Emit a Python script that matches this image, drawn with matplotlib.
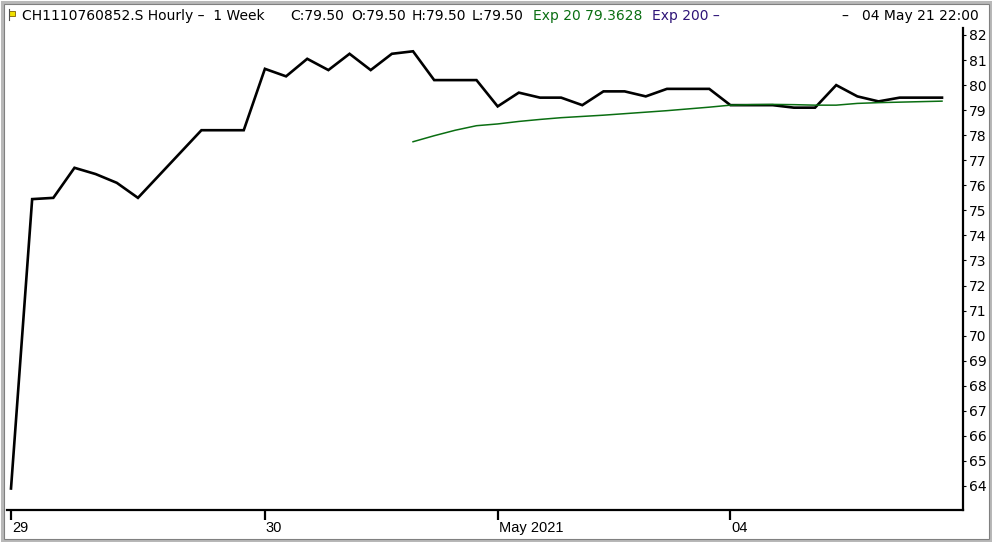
import matplotlib
matplotlib.use("Agg")
import matplotlib.pyplot as plt
import matplotlib.transforms as mtrans
from matplotlib.patches import Rectangle
from matplotlib.lines import Line2D

# ---- data ----
close = [63.9, 75.45, 75.5, 76.7, 76.45, 76.1, 75.5, 76.4, 77.3, 78.2,
         78.2, 78.2, 80.65, 80.35, 81.05, 80.6, 81.25, 80.6, 81.25, 81.35,
         80.2, 80.2, 80.2, 79.15, 79.7, 79.5, 79.5, 79.2, 79.75, 79.75,
         79.55, 79.85, 79.85, 79.85, 79.2, 79.2, 79.2, 79.1, 79.1, 80.0,
         79.55, 79.35, 79.5, 79.5, 79.5]
ema_start = 19
ema20 = [77.74, 77.98, 78.2, 78.38, 78.45, 78.55, 78.63, 78.7, 78.75, 78.8,
         78.86, 78.92, 78.98, 79.05, 79.12, 79.2, 79.22, 79.23, 79.22, 79.2,
         79.2, 79.27, 79.3, 79.32, 79.34, 79.36]
xtick_pos = [0, 12, 23, 34]
xtick_labels = ["29", "30", "May 2021", "04"]
yticks = list(range(64, 83))

W, H = 992, 542
fig = plt.figure(figsize=(W / 100, H / 100), dpi=100)
fig.patch.set_facecolor("white")

def fx(px):
    return px / W

def fy(py):
    return 1 - py / H

# axes: left 7, right 963, top 28, bottom 510 (pixels)
ax = fig.add_axes([fx(7), fy(510), fx(963) - fx(7), (510 - 28) / H])
ax.set_facecolor("white")

xs = list(range(len(close)))
ax.plot(xs, close, color="black", lw=1.9, solid_joinstyle="miter", zorder=3)
ax.plot(list(range(ema_start, ema_start + len(ema20))), ema20,
        color="#0a6e12", lw=1.1, zorder=4)

px_per_unit = (486 - 35) / 18.0
ax.set_ylim(64 - (510 - 486) / px_per_unit, 82 + (35 - 28) / px_per_unit)
step = (942 - 11) / 44.0
ax.set_xlim(-(11 - 7) / step, (963 - 11) / step)

for s in ["top", "left"]:
    ax.spines[s].set_visible(False)
for s in ["bottom", "right"]:
    ax.spines[s].set_linewidth(1.6)
    ax.spines[s].set_color("black")

ax.yaxis.tick_right()
ax.set_yticks(yticks)
ax.set_yticklabels([str(v) for v in yticks], fontsize=10, family="DejaVu Sans")
ax.tick_params(axis="y", length=2, width=0.8, pad=2, colors="black")

ax.set_xticks(xtick_pos)
ax.set_xticklabels(xtick_labels, fontsize=10.5, family="Liberation Sans", ha="left")
ax.tick_params(axis="x", length=7, width=1.6, pad=1, direction="out")
offset = mtrans.ScaledTranslation(1 / 100, 0, fig.dpi_scale_trans)
for lab in ax.get_xticklabels():
    lab.set_transform(lab.get_transform() + offset)

# header texts
hy = fy(16)
fs = 10
pieces = [
    (22, "CH1110760852.S Hourly \u2013  1 Week", "black"),
    (290, "C:79.50", "black"),
    (351, "O:79.50", "black"),
    (412, "H:79.50", "black"),
    (472, "L:79.50", "black"),
    (533, "Exp 20 79.3628", "#0a6e12"),
    (652, "Exp 200 \u2013", "#2e1478"),
]
for px, txt, col in pieces:
    fig.text(fx(px), hy, txt, fontsize=fs, color=col, va="center", ha="left")
fig.text(fx(979), hy, "\u2013   04 May 21 22:00", fontsize=fs, color="black",
         va="center", ha="right")

# flag icon
fig.add_artist(Rectangle((fx(9), fy(16)), 6 / W, 5 / H, transform=fig.transFigure,
                         facecolor="#f0e000", edgecolor="#806000", lw=0.6))
fig.add_artist(Line2D([fx(8.5), fx(8.5)], [fy(20), fy(9)], transform=fig.transFigure,
                      color="#505050", lw=0.8))

# window border
fig.add_artist(Rectangle((fx(1.5), fy(540.5)), 989 / W, 539 / H, transform=fig.transFigure,
                         fill=False, edgecolor="#b8b8b8", lw=2.2))
fig.add_artist(Rectangle((fx(3.5), fy(538.5)), 985 / W, 535 / H, transform=fig.transFigure,
                         fill=False, edgecolor="#808080", lw=0.8))

fig.savefig("out.png", dpi=100, facecolor="white")
